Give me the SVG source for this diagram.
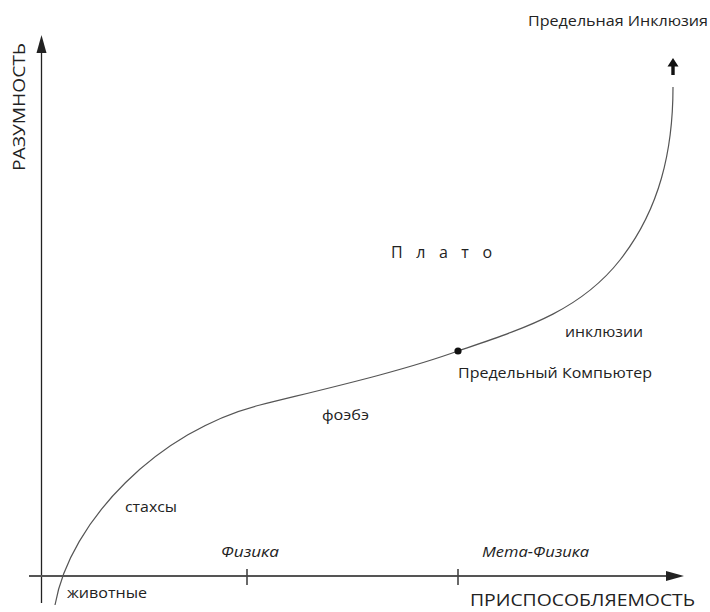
<svg xmlns="http://www.w3.org/2000/svg" width="710" height="612" viewBox="0 0 710 612">
<style>
text{font-family:"Open Sans","Liberation Sans",sans-serif;fill:#222;}
.axis{stroke:#222;stroke-width:1.3;fill:none;}
.xaxis{stroke:#555;stroke-width:2;fill:none;}
.tick{stroke:#444;stroke-width:1.6;}
.curve{stroke:#555;stroke-width:1.2;fill:none;}
.lbl{font-size:14px;}
.it{font-size:14px;font-style:italic;}
</style>
<rect width="710" height="612" fill="#fff"/>
<g id="connectors">
<line class="axis" x1="41.5" y1="603" x2="41.5" y2="48"/>
<polygon points="41.5,35 36.5,53 46.5,53" fill="#222"/>
<line class="xaxis" x1="29" y1="576" x2="670" y2="576"/>
<polygon points="684,576 666,571 666,581" fill="#222"/>
<line class="tick" x1="247" y1="569" x2="247" y2="585"/>
<line class="tick" x1="458" y1="569" x2="458" y2="585"/>
<path class="curve" d="M55,605 C70,520 160,430 260,405 C320,390 400,372 458,351 C525,328 580,311 620,260 C660,209 673,150 673,87"/>
<polygon points="673,58 667.5,66.5 671.3,66.5 671.3,75 674.7,75 674.7,66.5 678.5,66.5" fill="#111"/>
</g>
<g id="axis-y-label"><text transform="translate(25,171) rotate(-90)" font-size="16" textLength="128" lengthAdjust="spacingAndGlyphs">РАЗУМНОСТЬ</text></g>
<g id="axis-x-label"><text x="470" y="606" font-size="17" textLength="225" lengthAdjust="spacingAndGlyphs">ПРИСПОСОБЛЯЕМОСТЬ</text></g>
<g id="node-limit-inclusion"><text x="528" y="26" class="lbl" textLength="180" lengthAdjust="spacingAndGlyphs">Предельная Инклюзия</text></g>
<g id="node-plato"><text x="391" y="258" font-size="16" textLength="101" lengthAdjust="spacing">Плато</text></g>
<g id="node-inclusions"><text x="565" y="337" class="lbl" textLength="78" lengthAdjust="spacingAndGlyphs">инклюзии</text></g>
<g id="node-limit-computer"><circle cx="458" cy="351" r="3.6" fill="#111"/><text x="458" y="378" class="lbl" textLength="194" lengthAdjust="spacingAndGlyphs">Предельный Компьютер</text></g>
<g id="node-foebe"><text x="322" y="420" class="lbl" textLength="47" lengthAdjust="spacingAndGlyphs">фоэбэ</text></g>
<g id="node-stakhsy"><text x="125" y="512" class="lbl" textLength="52" lengthAdjust="spacingAndGlyphs">стахсы</text></g>
<g id="node-animals"><text x="67" y="598" class="lbl" textLength="80" lengthAdjust="spacingAndGlyphs">животные</text></g>
<g id="node-physics"><text x="221" y="557" class="it" textLength="58" lengthAdjust="spacingAndGlyphs">Физика</text></g>
<g id="node-metaphysics"><text x="482" y="557" class="it" textLength="107" lengthAdjust="spacingAndGlyphs">Мета-Физика</text></g>
</svg>
